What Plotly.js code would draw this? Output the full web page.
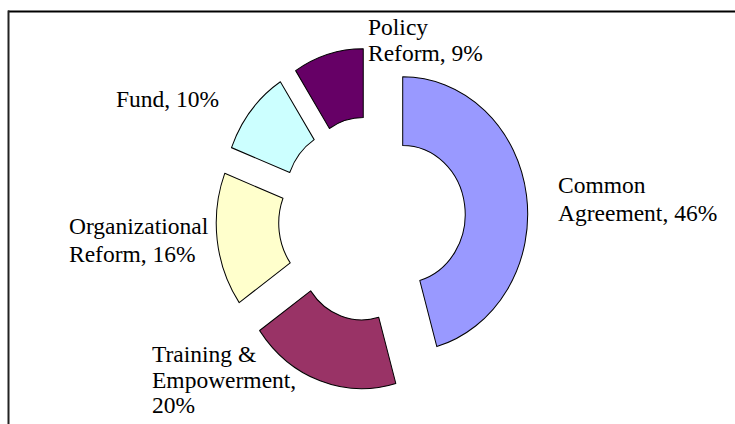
<!DOCTYPE html>
<html>
<head>
<meta charset="utf-8">
<script src="https://cdn.plot.ly/plotly-3.0.1.min.js"></script>
<style>
html,body{margin:0;padding:0;background:#fff;}
#chart{width:735px;height:424px;}
</style>
</head>
<body>
<div id="chart"></div>
<script>
// ---- data ----
const categories = ["Common Agreement", "Training & Empowerment", "Organizational Reform", "Fund", "Policy Reform"];
const values = [45.6, 19.6, 15.7, 10.0, 9.1];
const categoryLines = [["Common", "Agreement"], ["Training &", "Empowerment"], ["Organizational", "Reform"], ["Fund"], ["Policy", "Reform"]];
const pctOnNewLine = [false, true, false, false, false];

// ---- style / layout ----
const colors = ["#9999FF", "#993366", "#FFFFCC", "#CCFFFF", "#660066"];
const W = 735, H = 424;
const FS = 23.5;
const labelPos = [
  {x: 558, y: 193, dy: 28},
  {x: 152, y: 362, dy: 25.5},
  {x: 69,  y: 234, dy: 28},
  {x: 116, y: 107, dy: 0},
  {x: 368, y: 35,  dy: 26}
];
const pieCx = 372, pieCy = 219, yStretch = 1.1;

const total = values.reduce((a, b) => a + b, 0);
const annotations = [];
categories.forEach((c, i) => {
  const pct = Math.round(values[i] / total * 100) + "%";
  const lines = categoryLines[i].slice();
  if (pctOnNewLine[i]) {
    lines[lines.length - 1] += ",";
    lines.push(pct);
  } else {
    lines[lines.length - 1] += ", " + pct;
  }
  lines.forEach((t, k) => {
    const base = labelPos[i].y + k * labelPos[i].dy;
    annotations.push({
      xref: "paper", yref: "paper",
      x: (labelPos[i].x - 2) / W, y: 1 - (base - 8) / H,
      xanchor: "left", yanchor: "middle",
      text: t, showarrow: false,
      font: {family: "Liberation Serif, Times New Roman, serif", size: FS, color: "#000"}
    });
  });
});

const half = 156;
const trace = {
  type: "pie",
  labels: categories,
  values: values,
  sort: false,
  direction: "clockwise",
  rotation: 0,
  hole: 0.5,
  pull: values.map(() => 0.248),
  marker: {colors: colors, line: {color: "#000", width: 1}},
  textinfo: "none",
  hoverinfo: "none",
  showlegend: false,
  domain: {
    x: [(pieCx - half) / W, (pieCx + half) / W],
    y: [1 - (pieCy + half) / H, 1 - (pieCy - half) / H]
  }
};

const layout = {
  width: W, height: H,
  margin: {l: 0, r: 0, t: 0, b: 0},
  paper_bgcolor: "#fff",
  plot_bgcolor: "#fff",
  showlegend: false,
  annotations: annotations,
  shapes: [
    {type: "line", xref: "paper", yref: "paper", x0: 8 / W, x1: 1.01, y0: 1 - 11.5 / H, y1: 1 - 11.5 / H, line: {color: "#000", width: 2}},
    {type: "line", xref: "paper", yref: "paper", x0: 8.5 / W, x1: 8.5 / W, y0: 1 - 10.5 / H, y1: -0.01, line: {color: "#222", width: 2}}
  ]
};

Plotly.newPlot("chart", [trace], layout, {staticPlot: true, displayModeBar: false}).then(() => {
  const g = document.querySelector("#chart .pielayer");
  if (g) {
    g.setAttribute("transform",
      "translate(" + pieCx + "," + pieCy + ") scale(1," + yStretch + ") translate(" + (-pieCx) + "," + (-pieCy) + ")");
  }
});
</script>
</body>
</html>
